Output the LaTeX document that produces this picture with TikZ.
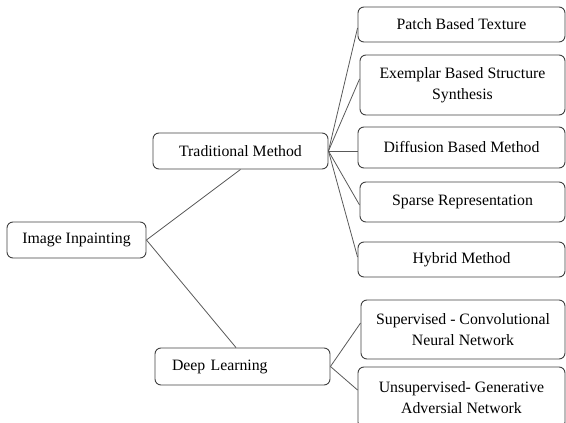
\documentclass[tikz,border=0pt]{standalone}
\usepackage{fontspec}
\setmainfont{Liberation Serif}
\begin{document}
\begin{tikzpicture}[x=1pt,y=-1pt,
  box/.style={draw=black!75, line width=0.9pt, rounded corners=6pt, align=center,
    inner sep=0pt, font=\fontsize{15.8}{21}\selectfont, text=black},
  link/.style={draw=black!65, line width=0.8pt}]
\useasboundingbox (0,0) rectangle (566,423);
\node[box, minimum width=139, minimum height=36] (ii) at (76.5,240) {Image Inpainting};
\node[box, minimum width=175, minimum height=36] (tm) at (240.5,151) {Traditional Method};
\node[box, minimum width=175, minimum height=37, text width=141, align=left, inner xsep=17] (dl) at (242.5,366.5) {Deep Learning};
\node[box, minimum width=207, minimum height=35] (p1) at (461.5,24.5) {Patch Based Texture};
\node[box, minimum width=205, minimum height=60] (p2) at (462.5,85) {Exemplar Based Structure\\Synthesis};
\node[box, minimum width=207, minimum height=41] (p3) at (461.5,147.5) {Diffusion Based Method};
\node[box, minimum width=205, minimum height=40] (p4) at (462.5,202) {Sparse Representation};
\node[box, minimum width=207, minimum height=35] (p5) at (461.5,259.5) {Hybrid Method};
\node[box, minimum width=204, minimum height=59] (q1) at (463,329.5) {Supervised - Convolutional\\Neural Network};
\node[box, minimum width=207, minimum height=61] (q2) at (461.5,397.5) {Unsupervised- Generative\\Adversial Network};
\draw[link] (ii.east) -- (tm.south);
\draw[link] (ii.east) -- ([xshift=-6.5]dl.north);
\draw[link] (tm.east) -- ([yshift=-3.5]p1.west);
\draw[link] (tm.east) -- ([yshift=6]p2.west);
\draw[link] (tm.east) -- ([yshift=-3.5]p3.west);
\draw[link] (tm.east) -- ([yshift=-3]p4.west);
\draw[link] (tm.east) -- ([yshift=2.5]p5.west);
\draw[link] (dl.east) -- ([yshift=6.5]q1.west);
\draw[link] (dl.east) -- ([yshift=7.5]q2.west);
\end{tikzpicture}
\end{document}
